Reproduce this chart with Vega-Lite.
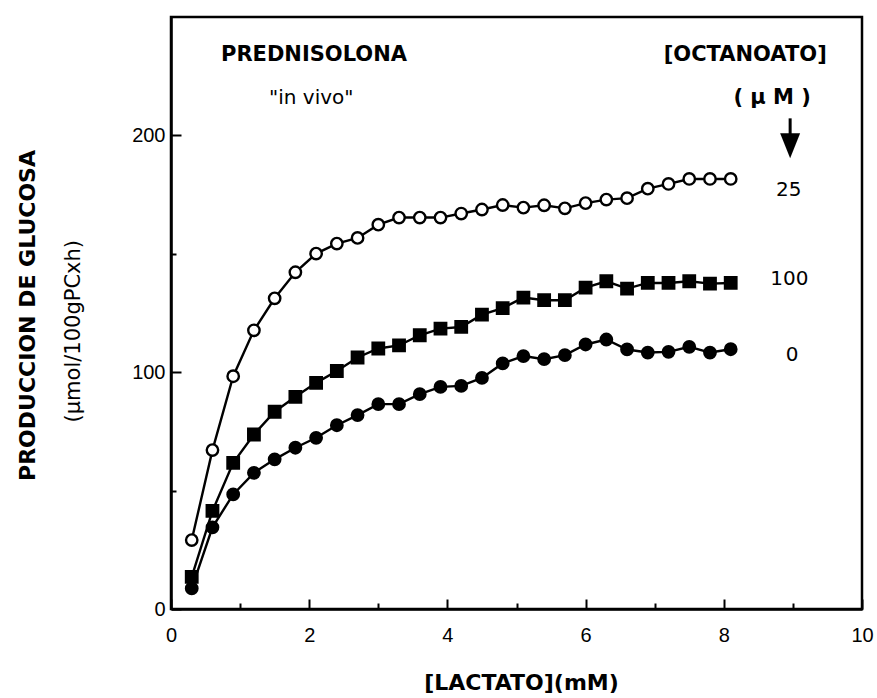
{
  "$schema": "https://vega.github.io/schema/vega-lite/v6.json",
  "autosize": "none",
  "padding": {"left": 171, "top": 17, "right": 15, "bottom": 89},
  "width": 691,
  "height": 592,
  "background": "white",
  "config": {
    "view": {"stroke": "black", "strokeWidth": 2.5},
    "axis": {"grid": false, "domainColor": "black", "domainWidth": 2.5, "tickColor": "black", "tickWidth": 2, "labelColor": "black", "titleColor": "black", "labelFont": "Liberation Sans", "labelFontSize": 20}
  },
  "datasets": {
    "obs": [
      {"x": 0.3, "y": 29.1, "s": "25"}, {"x": 0.6, "y": 67.1, "s": "25"}, {"x": 0.9, "y": 98.3, "s": "25"}, {"x": 1.2, "y": 117.7, "s": "25"}, {"x": 1.5, "y": 131.2, "s": "25"}, {"x": 1.8, "y": 142.2, "s": "25"}, {"x": 2.1, "y": 150.1, "s": "25"}, {"x": 2.4, "y": 154.3, "s": "25"}, {"x": 2.7, "y": 156.7, "s": "25"}, {"x": 3.0, "y": 162.3, "s": "25"}, {"x": 3.3, "y": 165.3, "s": "25"}, {"x": 3.6, "y": 165.3, "s": "25"}, {"x": 3.9, "y": 165.3, "s": "25"}, {"x": 4.2, "y": 167.0, "s": "25"}, {"x": 4.5, "y": 168.7, "s": "25"}, {"x": 4.8, "y": 170.6, "s": "25"}, {"x": 5.1, "y": 169.5, "s": "25"}, {"x": 5.4, "y": 170.5, "s": "25"}, {"x": 5.7, "y": 169.2, "s": "25"}, {"x": 6.0, "y": 171.4, "s": "25"}, {"x": 6.3, "y": 172.9, "s": "25"}, {"x": 6.6, "y": 173.5, "s": "25"}, {"x": 6.9, "y": 177.5, "s": "25"}, {"x": 7.2, "y": 179.5, "s": "25"}, {"x": 7.5, "y": 181.6, "s": "25"}, {"x": 7.8, "y": 181.6, "s": "25"}, {"x": 8.1, "y": 181.6, "s": "25"},
      {"x": 0.3, "y": 13.6, "s": "100"}, {"x": 0.6, "y": 41.4, "s": "100"}, {"x": 0.9, "y": 61.7, "s": "100"}, {"x": 1.2, "y": 73.7, "s": "100"}, {"x": 1.5, "y": 83.3, "s": "100"}, {"x": 1.8, "y": 89.6, "s": "100"}, {"x": 2.1, "y": 95.5, "s": "100"}, {"x": 2.4, "y": 100.5, "s": "100"}, {"x": 2.7, "y": 106.2, "s": "100"}, {"x": 3.0, "y": 110.0, "s": "100"}, {"x": 3.3, "y": 111.3, "s": "100"}, {"x": 3.6, "y": 115.6, "s": "100"}, {"x": 3.9, "y": 118.4, "s": "100"}, {"x": 4.2, "y": 119.1, "s": "100"}, {"x": 4.5, "y": 124.3, "s": "100"}, {"x": 4.8, "y": 127.1, "s": "100"}, {"x": 5.1, "y": 131.5, "s": "100"}, {"x": 5.4, "y": 130.4, "s": "100"}, {"x": 5.7, "y": 130.4, "s": "100"}, {"x": 6.0, "y": 135.7, "s": "100"}, {"x": 6.3, "y": 138.4, "s": "100"}, {"x": 6.6, "y": 135.3, "s": "100"}, {"x": 6.9, "y": 137.7, "s": "100"}, {"x": 7.2, "y": 137.7, "s": "100"}, {"x": 7.5, "y": 138.4, "s": "100"}, {"x": 7.8, "y": 137.4, "s": "100"}, {"x": 8.1, "y": 137.7, "s": "100"},
      {"x": 0.3, "y": 8.7, "s": "0"}, {"x": 0.6, "y": 34.5, "s": "0"}, {"x": 0.9, "y": 48.4, "s": "0"}, {"x": 1.2, "y": 57.5, "s": "0"}, {"x": 1.5, "y": 63.2, "s": "0"}, {"x": 1.8, "y": 68.1, "s": "0"}, {"x": 2.1, "y": 72.3, "s": "0"}, {"x": 2.4, "y": 77.6, "s": "0"}, {"x": 2.7, "y": 81.9, "s": "0"}, {"x": 3.0, "y": 86.5, "s": "0"}, {"x": 3.3, "y": 86.5, "s": "0"}, {"x": 3.6, "y": 90.7, "s": "0"}, {"x": 3.9, "y": 93.8, "s": "0"}, {"x": 4.2, "y": 94.2, "s": "0"}, {"x": 4.5, "y": 97.6, "s": "0"}, {"x": 4.8, "y": 103.7, "s": "0"}, {"x": 5.1, "y": 106.8, "s": "0"}, {"x": 5.4, "y": 105.5, "s": "0"}, {"x": 5.7, "y": 107.2, "s": "0"}, {"x": 6.0, "y": 111.7, "s": "0"}, {"x": 6.3, "y": 113.8, "s": "0"}, {"x": 6.6, "y": 109.6, "s": "0"}, {"x": 6.9, "y": 108.3, "s": "0"}, {"x": 7.2, "y": 108.6, "s": "0"}, {"x": 7.5, "y": 110.7, "s": "0"}, {"x": 7.8, "y": 108.3, "s": "0"}, {"x": 8.1, "y": 109.7, "s": "0"}
    ]
  },
  "data": {"name": "obs"},
  "encoding": {
    "x": {"field": "x", "type": "quantitative", "scale": {"domain": [0, 10], "nice": false},
      "axis": {"values": [0,1,2,3,4,5,6,7,8,9,10], "labelExpr": "datum.value % 2 === 0 ? datum.label : ''",
        "tickSize": {"condition": {"test": "datum.value % 2 === 0", "value": -10}, "value": -6},
        "labelPadding": 26, "labelFlush": false,
        "title": "[LACTATO](mM)", "titleFont": "DejaVu Sans", "titleFontWeight": "bold", "titleFontSize": 22,
        "titleX": 350, "titleY": 80, "titleBaseline": "alphabetic"}},
    "y": {"field": "y", "type": "quantitative", "scale": {"domain": [0, 250], "nice": false},
      "axis": {"values": [0,50,100,150,200], "labelExpr": "datum.value % 100 === 0 ? datum.label : ''",
        "tickSize": {"condition": {"test": "datum.value % 100 === 0", "value": -10}, "value": -5},
        "labelPadding": 16, "labelFlush": false,
        "title": "PRODUCCION DE GLUCOSA", "titleFont": "DejaVu Sans", "titleFontWeight": "bold", "titleFontSize": 22,
        "titleAngle": 270, "titleX": -137, "titleY": 298, "titleAlign": "center", "titleBaseline": "alphabetic"}}
  },
  "layer": [
    {"mark": {"type": "line", "color": "black", "strokeWidth": 2.4}, "encoding": {"detail": {"field": "s"}, "order": {"field": "x"}}},
    {"mark": {"type": "point", "filled": false, "stroke": "black", "strokeWidth": 2.4, "opacity": 1},
      "encoding": {
        "shape": {"field": "s", "type": "nominal", "scale": {"domain": ["0", "100", "25"], "range": ["circle", "square", "circle"]}, "legend": null},
        "fill": {"field": "s", "type": "nominal", "scale": {"domain": ["0", "100", "25"], "range": ["black", "black", "white"]}, "legend": null},
        "size": {"field": "s", "type": "nominal", "scale": {"domain": ["0", "100", "25"], "range": [130, 130, 120]}, "legend": null}
      }},
    {"data": {"values": [{"t": "PREDNISOLONA", "px": 2.07, "py": 233.8}, {"t": "[OCTANOATO]", "px": 8.31, "py": 233.8}, {"t": "( µ M )", "px": 8.7, "py": 215.6}]},
      "mark": {"type": "text", "font": "DejaVu Sans", "fontWeight": "bold", "fontSize": 21, "align": "center", "baseline": "middle", "color": "black"},
      "encoding": {"x": {"field": "px", "type": "quantitative"}, "y": {"field": "py", "type": "quantitative"}, "text": {"field": "t"}}},
    {"data": {"values": [{"t": "\"in  vivo\"", "px": 2.03, "py": 215.6}, {"t": "25", "px": 8.94, "py": 176.8}, {"t": "100", "px": 8.95, "py": 139.2}, {"t": "0", "px": 8.99, "py": 107.2}]},
      "mark": {"type": "text", "font": "DejaVu Sans", "fontSize": 20, "align": "center", "baseline": "middle", "color": "black"},
      "encoding": {"x": {"field": "px", "type": "quantitative"}, "y": {"field": "py", "type": "quantitative"}, "text": {"field": "t"}}},
    {"data": {"values": [{"t": "(µmol/100gPCxh)", "px": -1.405, "py": 117.3}]},
      "mark": {"type": "text", "font": "DejaVu Sans", "fontSize": 21, "angle": 270, "align": "center", "baseline": "middle", "color": "black"},
      "encoding": {"x": {"field": "px", "type": "quantitative"}, "y": {"field": "py", "type": "quantitative"}, "text": {"field": "t"}}},
    {"data": {"values": [{"px": 8.96, "py": 207.2, "py2": 197}]},
      "mark": {"type": "rule", "color": "black", "strokeWidth": 3},
      "encoding": {"x": {"field": "px", "type": "quantitative"}, "y": {"field": "py", "type": "quantitative"}, "y2": {"field": "py2"}}},
    {"data": {"values": [{"px": 8.96, "py": 195.6}]},
      "mark": {"type": "point", "shape": "M-1,-1.25L1,-1.25L0,1.25Z", "size": 400, "filled": true, "color": "black", "opacity": 1},
      "encoding": {"x": {"field": "px", "type": "quantitative"}, "y": {"field": "py", "type": "quantitative"}}}
  ]
}
